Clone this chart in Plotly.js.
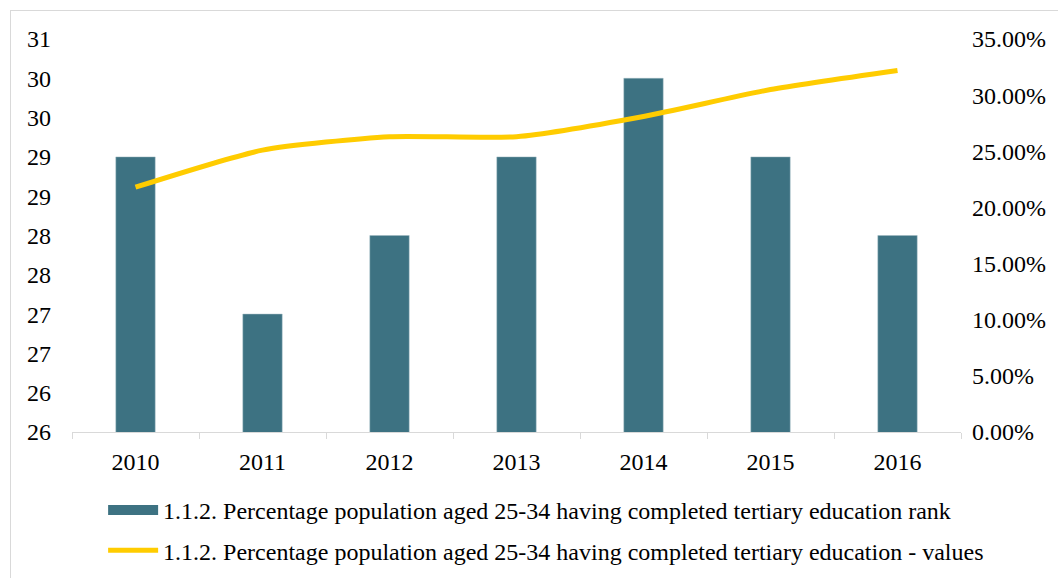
<!DOCTYPE html>
<html>
<head>
<meta charset="utf-8">
<script src="https://cdn.plot.ly/plotly-3.0.1.min.js"></script>
<style>
html,body{margin:0;padding:0;background:#fff;overflow:hidden;}
#wrap{position:relative;width:1058px;height:578px;}
#chart{position:absolute;left:0;top:0;width:1058px;height:578px;}
#frame{position:absolute;left:10px;top:10px;width:1100px;height:620px;border:1px solid #d9d9d9;pointer-events:none;}
</style>
</head>
<body>
<div id="wrap"><div id="chart"></div><div id="frame"></div></div>
<script>
const years = ['2010','2011','2012','2013','2014','2015','2016'];
const rankValues = [29, 27, 28, 29, 30, 29, 28];
const shareValues = [0.218, 0.251, 0.263, 0.263, 0.281, 0.305, 0.322];
const leftTickVals = [25.5, 26, 26.5, 27, 27.5, 28, 28.5, 29, 29.5, 30, 30.5];
const leftTickText = ['26','26','27','27','28','28','29','29','30','30','31'];
const rightTickVals = [0, 0.05, 0.10, 0.15, 0.20, 0.25, 0.30, 0.35];
const rankName = '1.1.2. Percentage population aged 25-34 having completed tertiary education rank';
const shareName = '1.1.2. Percentage population aged 25-34 having completed tertiary education - values';

const barColor = '#3D7282';
const lineColor = '#FFCC00';
const font = {family: '"Liberation Serif", "Times New Roman", serif', size: 24, color: '#000'};

const traces = [
  {type:'bar', x: years, y: rankValues, name: rankName, yaxis:'y', showlegend:false,
   marker:{color:barColor, line:{color:'#9fb9c1', width:0.5}}},
  // legend proxy for the bar series (wide rectangle key as in the original)
  {type:'scatter', mode:'lines', x:[null], y:[null], name: rankName, yaxis:'y',
   line:{color:barColor, width:12}, legendgroup:'a', hoverinfo:'skip'},
  {type:'scatter', mode:'lines', x: years, y: shareValues, name: shareName, yaxis:'y2',
   line:{color:lineColor, width:5, shape:'spline', smoothing:0.6}, legendgroup:'b'}
];

const layout = {
  width:1058, height:578,
  margin:{l:72, r:97, t:39, b:146},
  paper_bgcolor:'#fff', plot_bgcolor:'#fff',
  font: font,
  showlegend:true,
  bargap:0.69,
  xaxis:{type:'category', showgrid:false, showline:true, linecolor:'#d9d9d9', linewidth:1,
         ticks:'outside', tickson:'boundaries', ticklen:6, tickcolor:'#d9d9d9', tickwidth:1,
         ticklabelstandoff:8, tickfont:font, zeroline:false},
  yaxis:{range:[25.5,30.5], tickvals:leftTickVals, ticktext:leftTickText, showgrid:false,
         zeroline:false, showline:false, ticks:'', ticklabelstandoff:20, tickfont:font},
  yaxis2:{range:[0,0.35], tickvals:rightTickVals, tickformat:'.2%', overlaying:'y', side:'right',
          showgrid:false, zeroline:false, showline:false, ticks:'', ticklabelstandoff:10, tickfont:font},
  legend:{orientation:'v', x:0.035, xanchor:'left', yref:'container', y:1-488/578, yanchor:'top',
          traceorder:'grouped', tracegroupgap:6, itemwidth:50, font:font, bgcolor:'rgba(0,0,0,0)'}
};

Plotly.newPlot('chart', traces, layout, {displayModeBar:false, staticPlot:true});
</script>
</body>
</html>
